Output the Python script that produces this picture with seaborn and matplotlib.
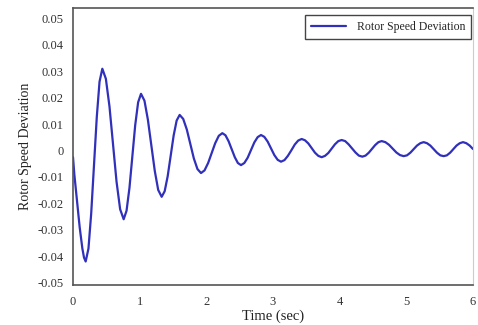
import matplotlib
matplotlib.use("Agg")
import matplotlib.pyplot as plt
import seaborn as sns
import pandas as pd

# Data
time_s = [0.0, 0.02, 0.06, 0.10, 0.14, 0.165, 0.19,
          0.232, 0.273, 0.315, 0.357, 0.398, 0.44,
          0.493, 0.547, 0.60, 0.653, 0.707, 0.76,
          0.803, 0.847, 0.89, 0.933, 0.977, 1.02,
          1.072, 1.123, 1.175, 1.227, 1.278, 1.33,
          1.375, 1.42, 1.465, 1.51, 1.555, 1.60,
          1.653, 1.707, 1.76, 1.813, 1.867, 1.92,
          1.973, 2.027, 2.08, 2.133, 2.187, 2.24,
          2.287, 2.333, 2.38, 2.427, 2.473, 2.52,
          2.57, 2.62, 2.67, 2.72, 2.77, 2.82,
          2.87, 2.92, 2.97, 3.02, 3.07, 3.12,
          3.172, 3.223, 3.275, 3.327, 3.378, 3.43,
          3.48, 3.53, 3.58, 3.63, 3.68, 3.73,
          3.78, 3.83, 3.88, 3.93, 3.98, 4.03,
          4.082, 4.133, 4.185, 4.237, 4.288, 4.34,
          4.388, 4.437, 4.485, 4.533, 4.582, 4.63,
          4.685, 4.74, 4.795, 4.85, 4.905, 4.96,
          5.01, 5.06, 5.11, 5.16, 5.21, 5.26,
          5.31, 5.36, 5.41, 5.46, 5.51, 5.56,
          5.608, 5.657, 5.705, 5.753, 5.802, 5.85,
          5.90, 5.95, 6.0]
speed_dev = [-0.0025, -0.009, -0.019, -0.029, -0.037, -0.0405, -0.042,
             -0.0371, -0.0238, -0.0055, 0.0128, 0.0261, 0.031,
             0.0272, 0.01675, 0.0025, -0.01175, -0.0222, -0.026,
             -0.0228, -0.0141, -0.00225, 0.0096, 0.0183, 0.0215,
             0.0189, 0.01175, 0.002, -0.00775, -0.0149, -0.0175,
             -0.0154, -0.00975, -0.002, 0.00575, 0.0114, 0.0135,
             0.0120, 0.008, 0.0025, -0.003, -0.0070, -0.0085,
             -0.0075, -0.0047, -0.00095, 0.0028, 0.0056, 0.0066,
             0.0058, 0.0036, 0.00055, -0.0025, -0.0047, -0.0055,
             -0.0047, -0.0027, 0.0002, 0.0031, 0.0051, 0.0059,
             0.0052, 0.0034, 0.00085, -0.0017, -0.0035, -0.0042,
             -0.0036, -0.002, 0.0001, 0.0023, 0.0038, 0.0044,
             0.0039, 0.0027, 0.00095, -0.0008, -0.0020, -0.0025,
             -0.0020, -0.0009, 0.00075, 0.0024, 0.0036, 0.0040,
             0.0036, 0.0024, 0.00085, -0.0007, -0.0019, -0.0023,
             -0.0019, -0.0008, 0.00065, 0.0021, 0.0032, 0.0036,
             0.0032, 0.0022, 0.00075, -0.0007, -0.0017, -0.0021,
             -0.0018, -0.0008, 0.00055, 0.0019, 0.0028, 0.0032,
             0.0028, 0.0019, 0.00055, -0.0008, -0.0018, -0.0021,
             -0.0018, -0.0008, 0.00055, 0.0019, 0.0028, 0.0032,
             0.0028, 0.0019, 0.0006]
series_label = "Rotor Speed Deviation"
x_ticks = [0, 1, 2, 3, 4, 5, 6]
y_ticks = [-0.05, -0.04, -0.03, -0.02, -0.01, 0, 0.01, 0.02, 0.03, 0.04, 0.05]
y_tick_labels = ["-0.05", "-0.04", "-0.03", "-0.02", "-0.01", "0",
                 "0.01", "0.02", "0.03", "0.04", "0.05"]

df = pd.DataFrame({"t": time_s, "v": speed_dev})

sns.set_style("white")
plt.rcParams["font.family"] = ["Liberation Serif", "DejaVu Serif"]
plt.rcParams["axes.unicode_minus"] = False

fig = plt.figure(figsize=(4.78, 3.25), dpi=100)
ax = fig.add_axes([73 / 478, 40 / 325, 400 / 478, 277 / 325])

sns.lineplot(data=df, x="t", y="v", ax=ax, color="#3030bb", linewidth=1.6,
             estimator=None, sort=False, label=series_label)

ax.set_xlim(0, 6)
ax.set_ylim(-0.0509, 0.054)
ax.set_xticks(x_ticks)
ax.set_xticklabels([str(v) for v in x_ticks])
ax.set_yticks(y_ticks)
ax.set_yticklabels(y_tick_labels)
ax.tick_params(axis="y", direction="in", length=3, width=0.8, color="#555555",
               labelsize=9, pad=7, labelcolor="#333333")
ax.tick_params(axis="x", length=0, labelsize=9, pad=8, labelcolor="#333333")

for side in ["left", "bottom", "top"]:
    ax.spines[side].set_color("#555555")
    ax.spines[side].set_linewidth(1.2)
ax.spines["right"].set_color("#cccccc")
ax.spines["right"].set_linewidth(0.8)

ax.set_xlabel("Time (sec)", fontsize=10.5, color="#222222", labelpad=1)
ax.set_ylabel("Rotor Speed Deviation", fontsize=10, color="#222222", labelpad=4)

leg = ax.legend(loc="upper right", bbox_to_anchor=(0.995, 0.975), borderaxespad=0,
                frameon=True, fancybox=False, framealpha=1, edgecolor="#444444",
                fontsize=8.5, handlelength=3.0, handletextpad=0.9,
                borderpad=0.5)
leg.get_frame().set_linewidth(1.0)

fig.savefig("out.png", dpi=100)
